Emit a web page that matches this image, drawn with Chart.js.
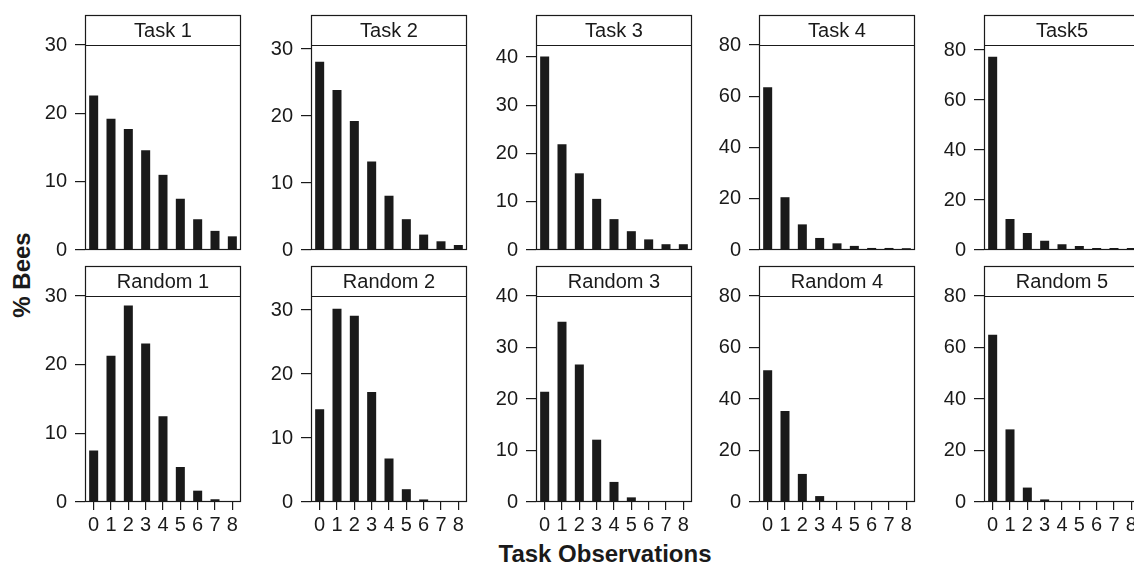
<!DOCTYPE html>
<html><head><meta charset="utf-8">
<script src="https://cdn.jsdelivr.net/npm/chart.js@4.4.1/dist/chart.umd.min.js"></script>
<style>
html,body{margin:0;padding:0;background:#fff;}
body{width:1134px;height:565px;overflow:hidden;position:relative;font-family:"Liberation Sans",Arial,sans-serif;}
canvas{position:absolute;}
#ylab{position:absolute;left:22px;top:275px;transform:translate(-50%,-50%) rotate(-90deg);font-weight:bold;font-size:24px;line-height:24px;white-space:nowrap;color:#1a1a1a;}
#xlab{position:absolute;left:605px;top:542px;transform:translateX(-50%);font-weight:bold;font-size:24px;line-height:24px;white-space:nowrap;color:#1a1a1a;}
</style></head><body>
<div id="ylab">% Bees</div>
<div id="xlab">Task Observations</div>
<script>
// ---- data ----
const categories = ['0','1','2','3','4','5','6','7','8'];
const taskTitles = ['Task 1','Task 2','Task 3','Task 4','Task5'];
const randomTitles = ['Random 1','Random 2','Random 3','Random 4','Random 5'];

const task1 = [22.6, 19.2, 17.7, 14.6, 11.0, 7.5, 4.5, 2.8, 2.0];
const task2 = [28.1, 23.9, 19.25, 13.2, 8.1, 4.6, 2.3, 1.3, 0.75];
const task3 = [40.1, 21.9, 15.9, 10.6, 6.4, 3.9, 2.2, 1.2, 1.2];
const task4 = [63.5, 20.6, 10.0, 4.7, 2.6, 1.6, 0.8, 0.8, 0.7];
const task5 = [77.3, 12.4, 6.8, 3.7, 2.3, 1.6, 0.8, 0.8, 0.8];

const random1 = [7.5, 21.3, 28.6, 23.1, 12.5, 5.1, 1.65, 0.4, 0.1];
const random2 = [14.5, 30.2, 29.1, 17.2, 6.8, 2.0, 0.4, 0.1, 0.1];
const random3 = [21.4, 35.0, 26.7, 12.1, 3.9, 0.9, 0.1, 0.1, 0.1];
const random4 = [51.2, 35.3, 10.9, 2.3, 0.15, 0.15, 0.15, 0.15, 0.15];
const random5 = [65.0, 28.2, 5.6, 1.0, 0.1, 0.1, 0.1, 0.1, 0.1];

const taskSeries = [task1, task2, task3, task4, task5];
const randomSeries = [random1, random2, random3, random4, random5];

// axis upper limits and tick steps
const taskYMax = [30, 30.6, 42.5, 80, 82];
const randomYMax = [30, 32.2, 40, 80, 80];
const yStep = [10, 10, 10, 20, 20];

// ---- layout ----
const FONT = '"Liberation Sans", Arial, sans-serif';
const INK = '#1a1a1a';
const ROWS = [
  {headerTop: 15, plotTop: 45, plotBottom: 250},
  {headerTop: 266, plotTop: 296, plotBottom: 502}
];
const PANEL_LEFT = [85, 311, 536, 759, 984];
const PANEL_W = 156, AXIS_W = 80, XAXIS_H = 45, PAD_R = 3;

function framePlugin(title, headerY) {
  return {
    id: 'frame',
    afterDraw(chart) {
      const ctx = chart.ctx, a = chart.chartArea;
      ctx.save();
      ctx.strokeStyle = INK;
      ctx.lineWidth = 1.2;
      const L = Math.round(a.left) + 0.5, R = Math.round(a.right) - 0.5;
      const T = Math.round(a.top) + 0.5, B = Math.round(a.bottom) - 0.5, H = headerY + 0.5;
      ctx.strokeRect(L, H, R - L, B - H);
      ctx.beginPath(); ctx.moveTo(L, T); ctx.lineTo(R, T); ctx.stroke();
      ctx.fillStyle = INK;
      ctx.font = '20px ' + FONT;
      ctx.textAlign = 'center';
      ctx.textBaseline = 'middle';
      ctx.fillText(title, (L + R) / 2, (H + T) / 2 + 1);
      ctx.restore();
    }
  };
}

function makePanel(row, col, title, values, yMax, step) {
  const r = ROWS[row];
  const top = r.headerTop - 2;
  const w = AXIS_W + PANEL_W + PAD_R;
  const h = r.plotBottom + XAXIS_H - top;
  const cv = document.createElement('canvas');
  cv.width = w; cv.height = h;
  cv.style.left = (PANEL_LEFT[col] - AXIS_W) + 'px';
  cv.style.top = top + 'px';
  cv.style.width = w + 'px'; cv.style.height = h + 'px';
  document.body.appendChild(cv);
  const showX = row === 1;
  new Chart(cv, {
    type: 'bar',
    data: {
      labels: categories,
      datasets: [{data: values, backgroundColor: INK, borderWidth: 0,
                  categoryPercentage: 1, barPercentage: 0.52}]
    },
    options: {
      responsive: false, animation: false, devicePixelRatio: 1,
      layout: {padding: {top: r.plotTop - top, right: PAD_R, left: 0, bottom: 0}},
      plugins: {legend: {display: false}, tooltip: {enabled: false}},
      scales: {
        x: {
          offset: true,
          grid: {display: showX, offset: false, drawOnChartArea: false, drawTicks: true,
                 tickLength: 8, color: INK, lineWidth: 1.2},
          border: {display: false},
          ticks: {display: showX, padding: 3, color: INK, font: {family: FONT, size: 20},
                  maxRotation: 0, autoSkip: false},
          afterFit: s => { s.height = XAXIS_H; }
        },
        y: {
          min: 0, max: yMax,
          grid: {drawOnChartArea: false, drawTicks: true, tickLength: 10, color: INK, lineWidth: 1.2},
          border: {display: false},
          ticks: {stepSize: step, includeBounds: false, padding: 8, color: INK,
                  font: {family: FONT, size: 20}},
          afterFit: s => { s.width = AXIS_W; }
        }
      }
    },
    plugins: [framePlugin(title, r.headerTop - top)]
  });
}

for (let c = 0; c < 5; c++) {
  makePanel(0, c, taskTitles[c], taskSeries[c], taskYMax[c], yStep[c]);
  makePanel(1, c, randomTitles[c], randomSeries[c], randomYMax[c], yStep[c]);
}
</script>
</body></html>
